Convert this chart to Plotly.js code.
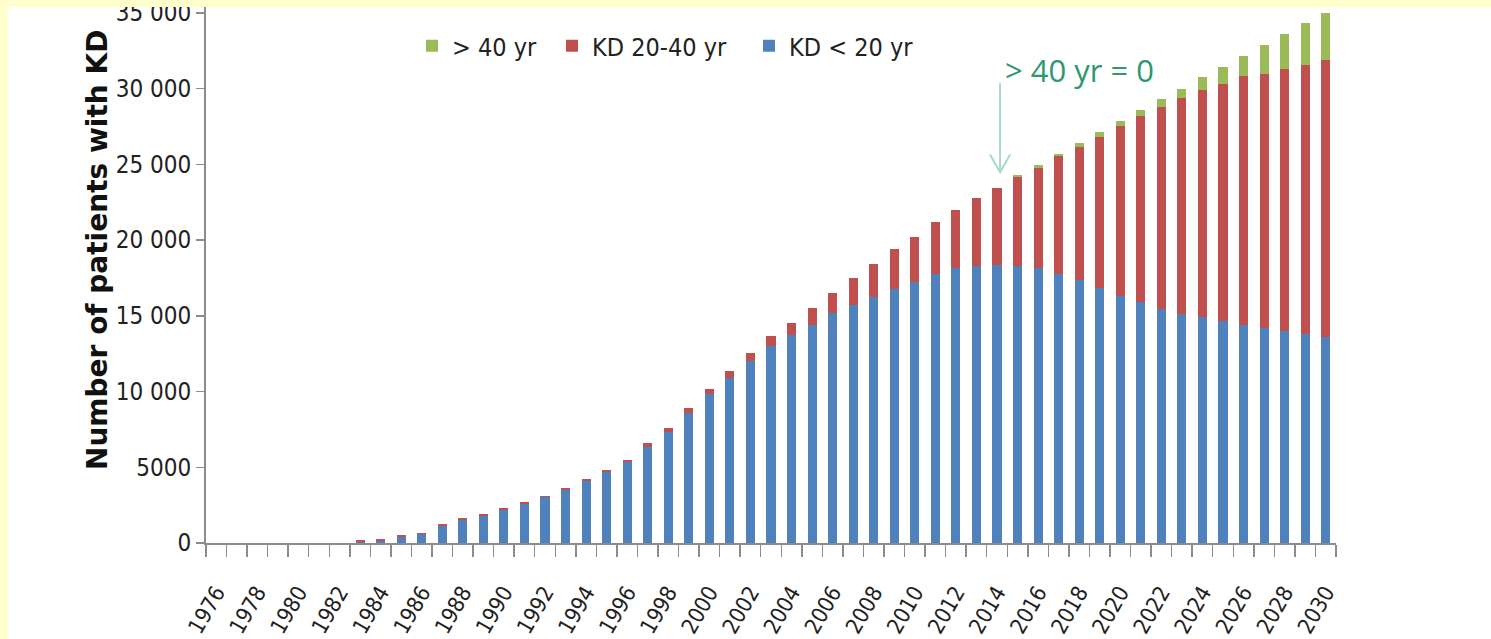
<!DOCTYPE html>
<html>
<head>
<meta charset="utf-8">
<script src="https://cdn.plot.ly/plotly-3.0.1.min.js"></script>
<style>
  html, body { margin: 0; padding: 0; background: #ffffff; }
  #chart { width: 1491px; height: 639px; }
</style>
</head>
<body>
<div id="chart"></div>
<script>
// Patients with KD per year, split by age group
const years = [1976, 1977, 1978, 1979, 1980, 1981, 1982, 1983, 1984, 1985,
  1986, 1987, 1988, 1989, 1990, 1991, 1992, 1993, 1994, 1995,
  1996, 1997, 1998, 1999, 2000, 2001, 2002, 2003, 2004, 2005,
  2006, 2007, 2008, 2009, 2010, 2011, 2012, 2013, 2014, 2015,
  2016, 2017, 2018, 2019, 2020, 2021, 2022, 2023, 2024, 2025,
  2026, 2027, 2028, 2029, 2030];

const kdUnder20 = [0, 0, 0, 0, 0, 0, 0, 40, 160, 400,
  580, 1140, 1490, 1810, 2200, 2590, 3010, 3480, 4100, 4680,
  5360, 6340, 7310, 8600, 9810, 10920, 12020, 12990, 13720, 14420,
  15210, 15690, 16240, 16770, 17230, 17750, 18140, 18290, 18370, 18300,
  18150, 17750, 17380, 16800, 16290, 15910, 15420, 15090, 14900, 14670,
  14420, 14180, 14000, 13770, 13620];

const kd20to40 = [0, 0, 0, 0, 0, 0, 0, 130, 110, 110,
  110, 120, 130, 130, 120, 120, 120, 130, 130, 150,
  120, 250, 270, 310, 380, 460, 550, 680, 780, 1080,
  1270, 1790, 2200, 2610, 3000, 3460, 3860, 4490, 5040, 5830,
  6620, 7770, 8780, 9990, 11250, 12250, 13360, 14290, 14980, 15660,
  16390, 16790, 17270, 17800, 18270];

const over40 = [0, 0, 0, 0, 0, 0, 0, 0, 0, 0,
  0, 0, 0, 0, 0, 0, 0, 0, 0, 0,
  0, 0, 0, 0, 0, 0, 0, 0, 0, 0,
  0, 0, 0, 0, 0, 0, 0, 0, 0, 140,
  150, 160, 240, 370, 330, 430, 550, 620, 860, 1080,
  1350, 1900, 2340, 2730, 3090];

const seriesNames = ['KD < 20 yr', 'KD 20-40 yr', '> 40 yr'];

// Axis labels
const yTickVals = [0, 5000, 10000, 15000, 20000, 25000, 30000, 35000];
const yTickText = ['0', '5000', '10 000', '15 000', '20 000', '25 000', '30 000', '35 000'];
const xTickYears = [1976, 1978, 1980, 1982, 1984, 1986, 1988, 1990, 1992, 1994,
  1996, 1998, 2000, 2002, 2004, 2006, 2008, 2010, 2012, 2014,
  2016, 2018, 2020, 2022, 2024, 2026, 2028, 2030];

// Callout: the year where the > 40 group is still empty
const calloutYear = 2014.15;
const calloutText = '> 40 yr = 0';

const narrow = '"Liberation Sans Narrow", "Arial Narrow", "DejaVu Sans Condensed", "Liberation Sans", sans-serif';
const axisGrey = '#8c8c8c';

const barWidth = 0.44;
const traces = [
  { type: 'bar', name: seriesNames[0], x: years, y: kdUnder20, width: barWidth,
    marker: { color: '#4F81BD' }, legend: 'legend3', hoverinfo: 'skip' },
  { type: 'bar', name: seriesNames[1], x: years, y: kd20to40, width: barWidth,
    marker: { color: '#C0504D' }, legend: 'legend2', hoverinfo: 'skip' },
  { type: 'bar', name: seriesNames[2], x: years, y: over40, width: barWidth,
    marker: { color: '#9BBB59' }, legend: 'legend', hoverinfo: 'skip' }
];

const M = { l: 206, r: 155, t: 7, b: 96 };
const plotW = 1491 - M.l - M.r;
const plotH = 639 - M.t - M.b;
const px2paperX = (px) => (px - M.l) / plotW;
const px2paperY = (py) => (639 - M.b - py) / plotH;

const legendFont = { family: narrow, size: 25, color: '#222222' };
function legendAt(px) {
  return {
    orientation: 'h', x: px2paperX(px), xanchor: 'left',
    y: px2paperY(23), yanchor: 'top', font: legendFont,
    bgcolor: 'rgba(0,0,0,0)', itemwidth: 30
  };
}

// arrow geometry in data units
const arrowTop = 30350, arrowTip = 24480, armEnd = 25650, armHalf = 0.49;

const layout = {
  width: 1491, height: 639,
  margin: M,
  paper_bgcolor: '#ffffff',
  plot_bgcolor: '#ffffff',
  barmode: 'stack',
  showlegend: true,
  legend: legendAt(412),
  legend2: legendAt(552),
  legend3: legendAt(749),
  xaxis: {
    type: 'linear', range: [1975.5, 2030.5], fixedrange: true,
    showgrid: false, zeroline: false,
    showline: true, linecolor: axisGrey, linewidth: 2,
    tickmode: 'array', tickvals: xTickYears, ticktext: xTickYears.map(String),
    ticks: 'outside', ticklen: 26, tickcolor: 'rgba(0,0,0,0)',
    tickangle: -60,
    tickfont: { family: narrow, size: 22, color: '#222222' },
    minor: { tick0: 1975.5, dtick: 1, ticks: 'outside', ticklen: 12,
             tickcolor: axisGrey, tickwidth: 1.5, showgrid: false }
  },
  yaxis: {
    range: [0, 35380], fixedrange: true,
    showgrid: false, zeroline: false,
    showline: true, linecolor: axisGrey, linewidth: 2,
    tickmode: 'array', tickvals: yTickVals, ticktext: yTickText,
    ticks: 'outside', ticklen: 8, tickcolor: axisGrey, tickwidth: 1.5,
    ticklabeloverflow: 'allow',
    tickfont: { family: narrow, size: 24, color: '#222222' }
  },
  shapes: [
    // page frame strips
    { type: 'rect', xref: 'paper', yref: 'paper', layer: 'above',
      x0: px2paperX(0), x1: px2paperX(1491), y0: px2paperY(7), y1: px2paperY(0),
      fillcolor: '#FFFFCC', line: { width: 0 } },
    { type: 'rect', xref: 'paper', yref: 'paper', layer: 'above',
      x0: px2paperX(0), x1: px2paperX(7.5), y0: px2paperY(639), y1: px2paperY(0),
      fillcolor: '#FFFFCC', line: { width: 0 } },
    // callout arrow
    { type: 'line', xref: 'x', yref: 'y', x0: calloutYear, x1: calloutYear,
      y0: arrowTop, y1: arrowTip, line: { color: '#A6DCC6', width: 2 } },
    { type: 'path', xref: 'x', yref: 'y',
      path: 'M ' + (calloutYear - armHalf) + ',' + armEnd + ' L ' + calloutYear + ',' + arrowTip +
            ' L ' + (calloutYear + armHalf) + ',' + armEnd,
      line: { color: '#A6DCC6', width: 2 } }
  ],
  annotations: [
    { xref: 'paper', yref: 'paper', x: px2paperX(98), y: px2paperY(250),
      xanchor: 'center', yanchor: 'middle', textangle: -90, showarrow: false,
      text: '<b>Number of patients with KD</b>',
      font: { family: 'DejaVu Sans, Verdana, sans-serif', size: 28, color: '#111111' } },
    { xref: 'x', yref: 'y', x: 2014.28, y: 31250, xanchor: 'left', yanchor: 'middle',
      showarrow: false, text: calloutText,
      font: { family: '"Open Sans", sans-serif', size: 31, color: '#2E9870' } }
  ]
};

Plotly.newPlot('chart', traces, layout, { staticPlot: true, displayModeBar: false });
</script>
</body>
</html>
